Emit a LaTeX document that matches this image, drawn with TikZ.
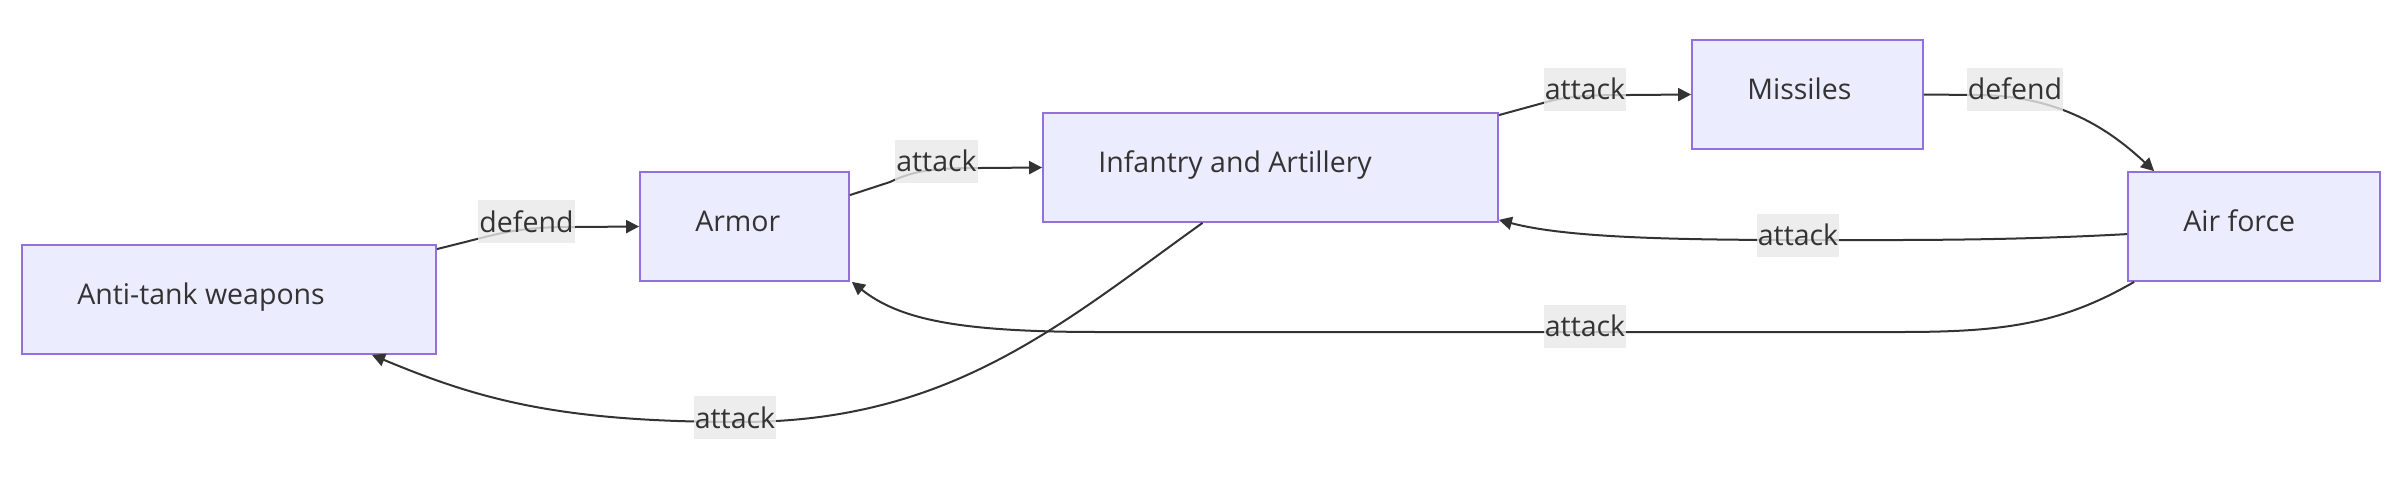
\documentclass[tikz,border=0pt]{standalone}
\usepackage{fontspec}
\setmainfont{Open Sans}
\usetikzlibrary{arrows.meta}

\definecolor{nodefill}{HTML}{ECECFF}
\definecolor{nodeline}{HTML}{9370DB}
\definecolor{linecol}{HTML}{333333}
\definecolor{labelfill}{HTML}{E8E8E8}
\definecolor{textcol}{HTML}{333333}

\tikzset{
    unitbox/.style={draw=nodeline, fill=nodefill, line width=1.8pt, inner sep=0pt, minimum height=109pt},
    unittext/.style={text=textcol, font=\fontsize{28.5}{34}\selectfont, inner sep=0pt, anchor=base west},
    edgelabel/.style={fill=labelfill, fill opacity=0.8, text opacity=1, text=textcol,
        font=\fontsize{28.5}{34}\selectfont, inner xsep=1pt, inner ysep=0pt, minimum height=43pt},
    link/.style={draw=linecol, line width=2pt, -{Triangle[length=13pt,width=13pt]}}
}

\begin{document}
\begin{tikzpicture}[x=1pt, y=-1pt]
    \useasboundingbox (0,0) rectangle (2408,477);

    % unita'
    \node[unitbox, minimum width=414pt] (anti) at (229,299.5) {};
    \node[unitbox, minimum width=209pt] (armor) at (744.5,226.5) {};
    \node[unitbox, minimum width=455pt] (inf) at (1270.5,167.5) {};
    \node[unitbox, minimum width=231pt] (missiles) at (1807.5,94.5) {};
    \node[unitbox, minimum width=252pt] (air) at (2254,226.5) {};

    \node[unittext] (anti-t) at ([xshift=56pt, yshift=-4.5pt]anti.west) {Anti-tank weapons};
    \node[unittext] (armor-t) at ([xshift=56pt, yshift=-4.5pt]armor.west) {Armor};
    \node[unittext] (inf-t) at ([xshift=56pt, yshift=-4.5pt]inf.west) {Infantry and Artillery};
    \node[unittext] (missiles-t) at ([xshift=56pt, yshift=-4.5pt]missiles.west) {Missiles};
    \node[unittext] (air-t) at ([xshift=56pt, yshift=-4.5pt]air.west) {Air force};

    % collegamenti
    \draw[link] ([yshift=-5pt]anti.north east) -- (485,237) .. controls (520,228) and (545,227) .. (575,227) -- (armor.west);
    \draw[link] ([yshift=-24pt]armor.north east) -- (890,182) .. controls (915,170) and (935,168) .. (980,168) -- (inf.west);
    \draw[link] ([yshift=-3pt]inf.north east) -- (1543,103) .. controls (1565,96) and (1590,95) .. (1630,95) -- (missiles.west);
    \draw[link] (missiles.east) -- (1975,95) .. controls (2060,95) and (2110,130) .. ([xshift=27pt]air.north west);
    \draw[link] ([yshift=-63pt]air.north west) .. controls (2000,241) and (1900,240) .. (1798,240) .. controls (1650,240) and (1560,236) .. ([yshift=3pt]inf.south east);
    \draw[link] ([xshift=7pt]air.south west) .. controls (2060,325) and (2000,332) .. (1900,332) -- (1100,332) .. controls (960,332) and (900,320) .. ([xshift=2pt]armor.south east);
    \draw[link] ([xshift=-68pt]inf.south) .. controls (1060,325) and (950,422) .. (740,422) .. controls (560,422) and (480,400) .. ([xshift=143pt]anti.south);

    % etichette
    \node[edgelabel] (l-defend1) at (526.5,221.5) {defend};
    \node[edgelabel] (l-attack1) at (936.5,161) {attack};
    \node[edgelabel] (l-attack2) at (1585,89) {attack};
    \node[edgelabel] (l-defend2) at (2015,89) {defend};
    \node[edgelabel] (l-attack3) at (1798,235) {attack};
    \node[edgelabel] (l-attack4) at (1585,326) {attack};
    \node[edgelabel] (l-attack5) at (735,417.5) {attack};
\end{tikzpicture}
\end{document}
